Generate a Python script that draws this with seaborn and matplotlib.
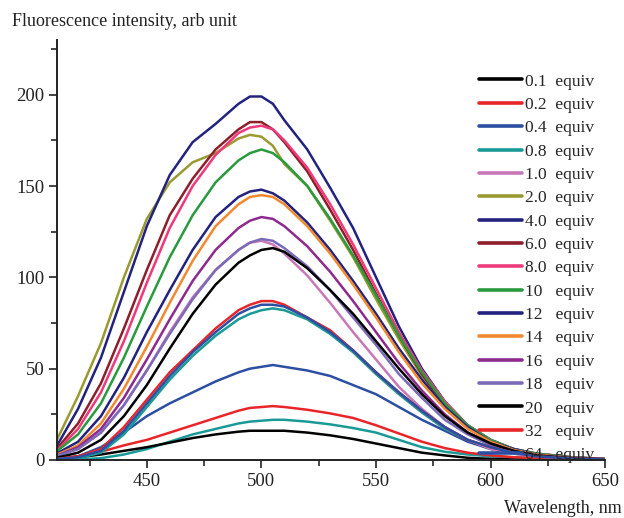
import numpy as np
import pandas as pd
import matplotlib
matplotlib.use("Agg")
import matplotlib.pyplot as plt
from matplotlib.ticker import MultipleLocator
import seaborn as sns

# wavelength grid (nm) the curves were read at
wavelength = [410, 420, 430, 440, 450, 460, 470, 480, 490, 495, 500, 505, 510,
              520, 530, 540, 550, 560, 570, 580, 590, 600, 610, 620, 635, 650]

labels = ['0.1  equiv', '0.2  equiv', '0.4  equiv', '0.8  equiv', '1.0  equiv',
          '2.0  equiv', '4.0  equiv', '6.0  equiv', '8.0  equiv', '10   equiv',
          '12   equiv', '14   equiv', '16   equiv', '18   equiv', '20   equiv',
          '32   equiv', '64   equiv']

colors = ['#000000', '#e8262a', '#2d4fa3', '#1a9a96', '#c878b8', '#9a9a32',
          '#23237f', '#8b1f2a', '#ee3a7a', '#2a9a3e', '#23237f', '#f08a30',
          '#8e2a8e', '#7b6ab8', '#000000', '#e8262a', '#2d4fa3']

eq_0_1 = [0.5, 1.5, 3, 5, 7, 9.5, 12, 14, 15.5, 16, 16, 16, 16,
          15, 13.5, 11.5, 9, 6.5, 4, 2.5, 1.2, 0.6, 0.3, 0.2, 0.1, 0.1]
eq_0_2 = [0.5, 2, 4.5, 8, 11, 15, 19, 23, 27, 28.5, 29, 29.5, 29,
          27.5, 25.5, 23, 19, 14.5, 10, 6.5, 4, 2.5, 1.5, 1, 0.5, 0.2]
eq_0_4 = [0.3, 2, 7, 15, 24, 31, 37, 43, 48, 50, 51, 52, 51,
          49, 46, 41, 36, 29, 22, 16, 10, 6, 3.5, 2, 0.8, 0.3]
eq_0_8 = [0.3, 1, 4, 14, 29, 44, 57, 68, 77, 80, 82, 83, 82,
          77, 69, 59, 47, 36, 26, 17, 11, 6.5, 4, 2, 0.8, 0.3]
eq_1_0 = [2, 6, 15, 30, 49, 70, 89, 104, 115, 119, 120, 118, 113,
          101, 86, 70, 55, 40, 28, 18, 11, 6, 3.5, 2, 0.8, 0.3]
eq_2_0 = [9, 35, 64, 100, 132, 152, 163, 168, 176, 178, 177, 172, 162,
          150, 131, 111, 88, 66, 46, 30, 18, 10, 6, 3, 1.5, 0.5]
eq_4_0 = [6, 28, 56, 92, 128, 156, 174, 184, 195, 199, 199, 195, 186,
          170, 149, 127, 100, 73, 50, 32, 19, 11, 6, 3.5, 1.5, 0.5]
eq_6_0 = [5, 20, 42, 72, 104, 134, 154, 170, 181, 185, 185, 181, 174,
          158, 137, 115, 91, 68, 47, 30, 18, 10, 6, 3, 1.3, 0.5]
eq_8_0 = [4, 17, 37, 65, 97, 127, 150, 167, 179, 182, 183, 181, 175,
          160, 140, 118, 94, 70, 49, 32, 19, 11, 6, 3.5, 1.5, 0.5]
eq_10 = [4, 14, 31, 56, 84, 111, 134, 152, 164, 168, 170, 168, 163,
         150, 132, 112, 90, 68, 48, 31, 19, 11, 6, 3.5, 1.5, 0.5]
eq_12 = [3, 10, 24, 45, 70, 93, 115, 133, 144, 147, 148, 146, 142,
         130, 115, 98, 80, 61, 44, 29, 18, 10, 6, 3, 1.3, 0.5]
eq_14 = [2.5, 8, 20, 39, 62, 86, 109, 128, 140, 144, 145, 144, 140,
         128, 113, 96, 78, 59, 42, 28, 17, 10, 5.5, 3, 1.2, 0.5]
eq_16 = [2, 7, 17, 34, 55, 77, 98, 115, 127, 131, 133, 132, 128,
         117, 103, 87, 70, 53, 38, 25, 15, 9, 5, 2.5, 1, 0.4]
eq_18 = [2, 6, 15, 30, 49, 69, 88, 104, 115, 119, 121, 120, 116,
         106, 93, 78, 63, 47, 34, 22, 14, 8, 4.5, 2.5, 1, 0.4]
eq_20 = [1, 4, 11, 24, 41, 61, 80, 96, 108, 112, 115, 116, 114,
         105, 93, 80, 65, 50, 36, 24, 15, 9, 5, 2.5, 1, 0.4]
eq_32 = [0.5, 2, 6, 18, 33, 48, 60, 72, 82, 85, 87, 87, 85,
         78, 71, 60, 48, 37, 27, 18, 11, 7, 4, 2, 0.8, 0.3]
eq_64 = [0.5, 1.5, 5, 16, 31, 46, 59, 70, 80, 83, 85, 85, 84,
         78, 70, 60, 48, 37, 27, 18, 11, 7, 4, 2, 0.8, 0.3]
# extra low teal trace seen in the figure (not in legend)
extra_teal = [0, 0.3, 1, 3, 6, 10, 14, 17, 20, 21, 21.5, 22, 22,
              21, 19.5, 17.5, 15, 11, 7, 4.5, 3, 2, 1.5, 1, 0.5, 0.2]

series = [eq_0_1, eq_0_2, eq_0_4, eq_0_8, eq_1_0, eq_2_0, eq_4_0, eq_6_0,
          eq_8_0, eq_10, eq_12, eq_14, eq_16, eq_18, eq_20, eq_32, eq_64]

sns.set_style("ticks")
plt.rcParams['font.family'] = ['Liberation Serif', 'DejaVu Serif']

fig = plt.figure(figsize=(6.24, 5.18), dpi=100)
ax = fig.add_axes([0.092, 0.112, 0.878, 0.811])

sns.lineplot(x=wavelength, y=extra_teal, color='#1a9a96', lw=1.8, ax=ax,
             label='_nolegend_')
for vals, lab, c in zip(series, labels, colors):
    sns.lineplot(x=wavelength, y=vals, color=c, lw=1.8, ax=ax, label=lab)

ax.set_xlim(411, 650)
ax.set_ylim(0, 230)
ax.xaxis.set_major_locator(MultipleLocator(50))
ax.xaxis.set_minor_locator(MultipleLocator(25))
ax.yaxis.set_major_locator(MultipleLocator(50))
ax.yaxis.set_minor_locator(MultipleLocator(25))
ax.tick_params(which='major', direction='out', length=6, width=1.2,
               labelsize=13.5, colors='#222222')
ax.tick_params(which='minor', direction='out', length=4, width=1.2)
sns.despine(ax=ax)
for s in ['left', 'bottom']:
    ax.spines[s].set_linewidth(1.4)
    ax.spines[s].set_color('#222222')
ax.set_xlabel('')
ax.set_ylabel('')

fig.text(0.019, 0.958, 'Fluorescence intensity, arb unit', fontsize=13,
         ha='left', va='center', color='#222222')
fig.text(0.997, 0.018, 'Wavelength, nm', fontsize=13, ha='right',
         va='center', color='#222222')

leg = ax.legend(loc='upper right', bbox_to_anchor=(1.0, 0.945), frameon=False,
                fontsize=12.5, handlelength=2.5, handletextpad=0.2,
                labelspacing=0.415, borderaxespad=0.2)
for line in leg.get_lines():
    line.set_linewidth(2.6)

fig.savefig('out.png', dpi=100)
